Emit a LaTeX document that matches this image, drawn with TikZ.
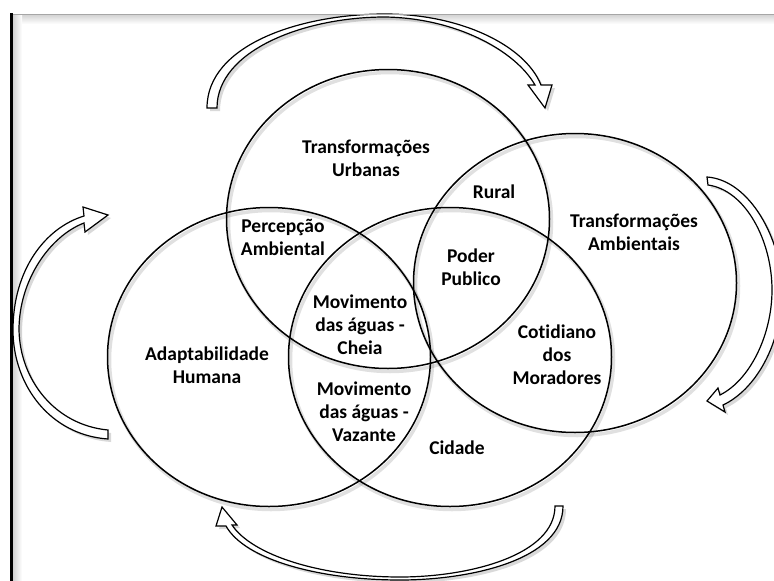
\documentclass[tikz,border=0pt]{standalone}
\usepackage{fontspec}
\setmainfont{Carlito}[Ligatures=NoCommon]
\usepackage{tikz}

\tikzset{
  venn/.style={line width=1.5pt},
  vennshadow/.style={line width=3.5pt, draw=black, opacity=0.12, xshift=2pt, yshift=-3pt},
  blockarrow/.style={draw, fill=white, line width=1.2pt, line join=miter},
  arrowshadow/.style={fill=black, opacity=0.15, xshift=3pt, yshift=-3pt},
  lbl/.style={align=center, font=\fontsize{19.5}{23}\selectfont\bfseries, inner sep=0pt}
}

% outlines of the four curved block arrows
\newcommand{\arrowTop}{(217,108) -- (207,108)
  .. controls (207,45) and (300,14) .. (385,14)
  .. controls (460,14) and (525,45) .. (541,85)
  -- (552,85) -- (545,108) -- (528,85) -- (535,85)
  .. controls (515,50) and (455,18) .. (385,17)
  .. controls (305,17) and (217,50) .. (217,108) -- cycle}
\newcommand{\arrowRight}{(708,185) -- (707,177)
  .. controls (750,180) and (782,240) .. (782,290)
  .. controls (782,345) and (755,390) .. (723,405)
  -- (725,412) -- (707,401) -- (718,388) -- (720,395)
  .. controls (750,380) and (772,335) .. (772,290)
  .. controls (772,240) and (745,190) .. (708,185) -- cycle}
\newcommand{\arrowBottom}{(555,506) -- (563,506)
  .. controls (563,560) and (470,580) .. (400,580)
  .. controls (320,580) and (245,560) .. (226,526)
  -- (216,526) -- (222,507) -- (237,525) -- (232,525)
  .. controls (252,555) and (320,577) .. (400,577)
  .. controls (470,577) and (555,555) .. (555,506) -- cycle}
\newcommand{\arrowLeft}{(108,430) -- (108,439)
  .. controls (50,435) and (13,385) .. (13,330)
  .. controls (13,270) and (45,228) .. (84,216)
  -- (83,207) -- (108,215) -- (85,232) -- (84,223)
  .. controls (50,236) and (19,280) .. (19,330)
  .. controls (20,380) and (55,425) .. (108,430) -- cycle}

\begin{document}
\begin{tikzpicture}[x=1pt, y=-1pt]
\useasboundingbox (0,0) rectangle (774,581);
\fill[white] (0,0) rectangle (774,581);
\clip (0,0) rectangle (774,581);

% frame shadow
\shade[top color=gray!35, bottom color=white] (13,14.5) rectangle (774,24);
\shade[left color=gray!35, right color=white] (13,14.5) rectangle (22,581);

% curved arrows
\foreach \a in {\arrowTop, \arrowRight, \arrowBottom, \arrowLeft}
{
    \fill[arrowshadow] \a;
    \draw[blockarrow] \a;
}

% frame
\draw[gray!70, line width=1pt] (10,14) -- (774,14);
\draw[line width=3pt] (11.5,13) -- (11.5,581);

% the four sets
\foreach \c in {(388,219), (575,283), (269,357), (450,357)}
{
    \draw[vennshadow] \c ellipse (161.5pt and 149.5pt);
    \draw[venn] \c ellipse (161.5pt and 149.5pt);
}

\node[lbl] (urb) at (366,158) {Transformações\\Urbanas};
\node[lbl] (rural) at (494,192) {Rural};
\node[lbl] (perc) at (283,237) {Percepção\\Ambiental};
\node[lbl] (poder) at (471,267) {Poder\\Publico};
\node[lbl] (amb) at (634,232) {Transformações\\Ambientais};
\node[lbl] (cot) at (557,355) {Cotidiano\\dos\\Moradores};
\node[lbl] (cheia) at (360,325) {Movimento\\das águas -\\Cheia};
\node[lbl] (vaz) at (364,412) {Movimento\\das águas -\\Vazante};
\node[lbl] (adapt) at (207,365) {Adaptabilidade\\Humana};
\node[lbl] (cid) at (457,448) {Cidade};
\end{tikzpicture}
\end{document}
